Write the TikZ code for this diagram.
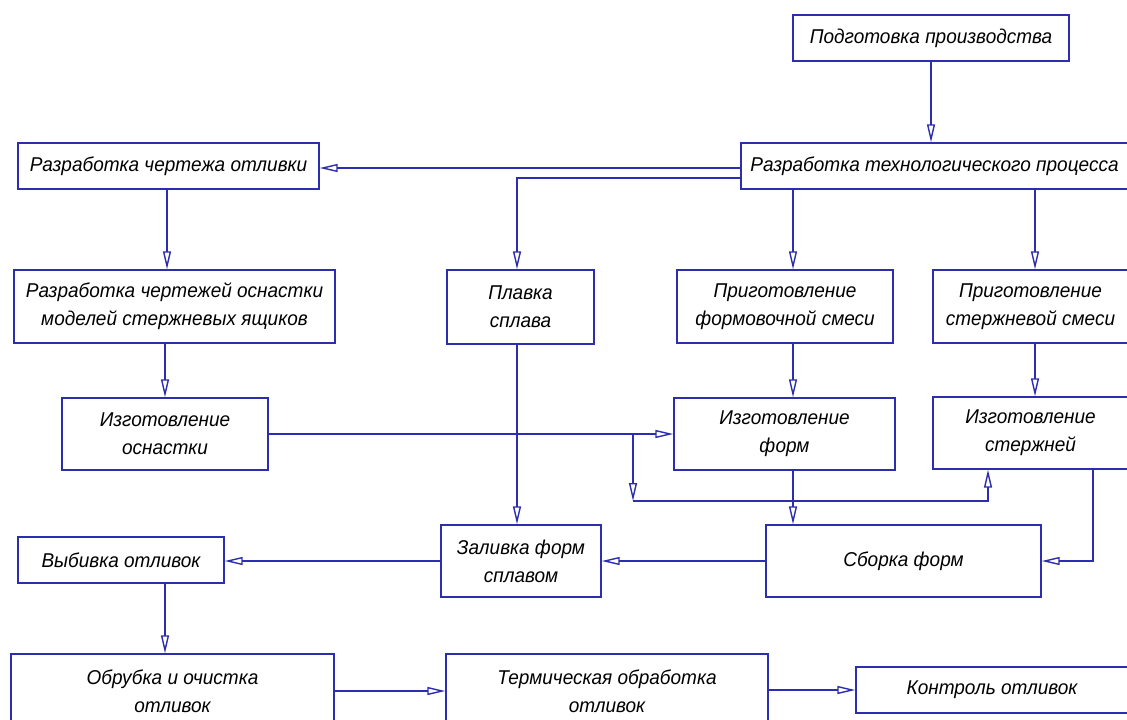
\documentclass[tikz,border=0pt]{standalone}
\usepackage{fontspec}
\newfontfamily\gost{Liberation Sans}[FakeStretch=0.95]
\usetikzlibrary{arrows.meta}
\definecolor{ln}{RGB}{45,45,175}
\begin{document}
\begin{tikzpicture}[x=1pt,y=-1pt,
  box/.style={draw=ln,line width=1.4pt,rectangle,inner sep=0pt,align=center,
    font={\gost\itshape\fontsize{20}{28}\selectfont}},
  arr/.style={draw=ln,line width=1.4pt,-{Triangle[open,length=18pt,width=8pt]}}]
\useasboundingbox (0,0) rectangle (1127,720);
\clip (0,0) rectangle (1127,720);
\fill[white] (0,0) rectangle (1127,720);
% boxes
\node[box,minimum width=276,minimum height=46] (prep) at (931,38) {Подготовка производства};
\node[box,minimum width=387,minimum height=46] (tech) at (934.5,166) {Разработка технологического процесса};
\node[box,minimum width=301,minimum height=46] (drw) at (168.5,166) {Разработка чертежа отливки};
\node[box,minimum width=321,minimum height=73] (osn) at (174.5,306.5) {Разработка чертежей оснастки\\моделей стержневых ящиков};
\node[box,minimum width=147,minimum height=74] (plav) at (520.5,307) {Плавка\\сплава};
\node[box,minimum width=216,minimum height=73] (pf) at (785,306.5) {Приготовление\\формовочной смеси};
\node[box,minimum width=195,minimum height=73] (ps) at (1030.5,306.5) {Приготовление\\стержневой смеси};
\node[box,minimum width=206,minimum height=72] (io) at (165,434) {Изготовление\\оснастки};
\node[box,minimum width=221,minimum height=72] (if) at (784.5,434) {Изготовление\\форм};
\node[box,minimum width=195,minimum height=72] (is) at (1030.5,433) {Изготовление\\стержней};
\node[box,minimum width=206,minimum height=46] (vyb) at (121,560) {Выбивка отливок};
\node[box,minimum width=160,minimum height=72] (zal) at (521,561) {Заливка форм\\сплавом};
\node[box,minimum width=275,minimum height=72] (sb) at (903.5,561) {Сборка форм};
\node[box,minimum width=323,minimum height=74] (obr) at (172.5,691) {Обрубка и очистка\\отливок};
\node[box,minimum width=322,minimum height=74] (term) at (607,691) {Термическая обработка\\отливок};
\node[box,minimum width=272,minimum height=46] (kon) at (992,690) {Контроль отливок};
% connectors
\draw[arr] (prep.south) -- (prep.south |- tech.north);
\draw[arr] ([yshift=-2pt]tech.west) -- ([yshift=-2pt]drw.east);
\draw[arr] ([yshift=-12pt]tech.west) -| ([xshift=-3.5pt]plav.north);
\draw[arr] ([xshift=8pt]pf.north |- tech.south) -- ([xshift=8pt]pf.north);
\draw[arr] ([xshift=4.5pt]ps.north |- tech.south) -- ([xshift=4.5pt]ps.north);
\draw[arr] ([xshift=-1.5pt]drw.south) -- ([xshift=-1.5pt]drw.south |- osn.north);
\draw[arr] (io.north |- osn.south) -- (io.north);
\draw[arr] (io.east) -- (if.west);
\coordinate (br1) at (633,434);
\coordinate (br2) at (633,501);
\draw[arr] (br1) -- (br2);
\draw[arr] (br2) -| ([xshift=-42.5pt]is.south);
\draw[arr] ([xshift=-3.5pt]plav.south) -- ([xshift=-3.5pt]plav.south |- zal.north);
\draw[arr] ([xshift=8pt]pf.south) -- ([xshift=8pt]pf.south |- if.north);
\draw[arr] ([xshift=4.5pt]ps.south) -- ([xshift=4.5pt]ps.south |- is.north);
\draw[arr] ([xshift=8.5pt]if.south) -- ([xshift=8.5pt]if.south |- sb.north);
\draw[arr] ([xshift=62.5pt]is.south) |- (sb.east);
\draw[arr] (sb.west) -- (sb.west -| zal.east);
\draw[arr] (zal.west) -- (zal.west -| vyb.east);
\draw[arr] ([xshift=44pt]vyb.south) -- ([xshift=44pt]vyb.south |- obr.north);
\draw[arr] (obr.east) -- (term.west);
\draw[arr] (term.east |- kon.west) -- (kon.west);
\end{tikzpicture}
\end{document}
